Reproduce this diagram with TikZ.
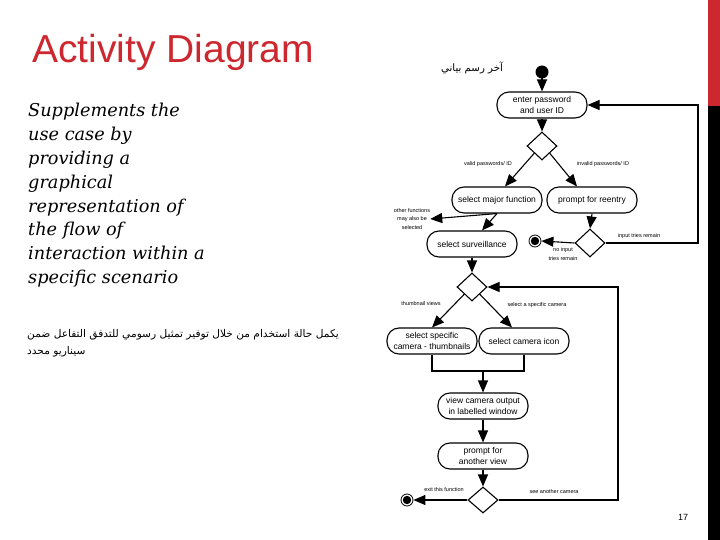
\documentclass[tikz,border=0pt]{standalone}
\usepackage{fontspec}
\setmainfont{Liberation Sans}
\newfontfamily\arabicfont[Script=Arabic]{DejaVu Sans}
\newfontfamily\bodyserif{DejaVu Serif}
\TeXXeTstate=1
\usetikzlibrary{shapes.geometric,arrows.meta,calc}
\definecolor{slidered}{RGB}{205,39,48}
\tikzset{
  act/.style={draw, line width=1.1pt, rounded corners=12pt, minimum width=90pt,
    minimum height=26pt, align=center, inner sep=1pt, font=\fontsize{8.5}{11}\selectfont},
  dec/.style={draw, line width=1.1pt, diamond, minimum width=30pt, minimum height=28pt, inner sep=0pt},
  lbl/.style={font=\fontsize{5.5}{8.5}\selectfont, inner sep=0pt, align=center},
  flow/.style={line width=1.1pt, -{Triangle[length=12pt,width=10pt]}},
  plainline/.style={line width=1.1pt},
  finalnode/.style={circle, draw, line width=0.8pt, minimum size=12pt, inner sep=0pt,
    path picture={\fill (path picture bounding box.center) circle (4.2pt);}},
  bodyline/.style={anchor=base west, inner sep=0pt, font=\bodyserif\itshape\fontsize{17.7}{20}\selectfont},
}
\begin{document}
\begin{tikzpicture}[x=1pt,y=-1pt]
\useasboundingbox (0,0) rectangle (720,540);
\fill[white] (0,0) rectangle (720,540);
% side bar
\fill[slidered] (708,0) rectangle (720,106);
\fill[black] (708,106) rectangle (720,540);
% title
\node[anchor=base west, inner sep=0pt, text=slidered, font=\fontsize{39}{41}\selectfont] (title) at (32,63) {Activity Diagram};
% left text
\foreach \t [count=\i] in {Supplements the, use case by, providing a, graphical, representation of, the flow of, interaction within a, specific scenario}
  \node[bodyline] (t\i) at (28,{117+23.8*(\i-1)}) {\t};
% arabic texts
\node[inner sep=0pt, font=\arabicfont\fontsize{10.2}{12}\selectfont] (artitle) at (472,68) {\beginR آخر رسم بياني\endR};
\node[anchor=base west, inner sep=0pt, font=\arabicfont\fontsize{10.6}{12}\selectfont] (ar1) at (27,337) {\beginR يكمل حالة استخدام من خلال توفير تمثيل رسومي للتدفق التفاعل ضمن\endR};
\node[anchor=base west, inner sep=0pt, font=\arabicfont\fontsize{10.6}{12}\selectfont] (ar2) at (27,354) {\beginR سيناريو محدد\endR};
% page number
\node[inner sep=0pt, font=\fontsize{9}{10}\selectfont] (pg) at (683,517) {17};

% diagram nodes
\fill (542,72) circle (6.5pt);
\coordinate (start) at (542,72);
\node[act] (pw) at (542,105) {enter password\\and user ID};
\node[dec] (d1) at (542,146) {};
\node[act] (major) at (497,200) {select major function};
\node[act] (reentry) at (592,200) {prompt for reentry};
\node[act] (surv) at (472,244) {select surveillance};
\node[dec] (d2) at (590,243) {};
\node[finalnode] (fin1) at (535,241) {};
\node[dec] (d3) at (472,287) {};
\node[act] (thumb) at (432,341) {select specific\\camera - thumbnails};
\node[act] (icon) at (524,341) {select camera icon};
\node[act] (view) at (483,406) {view camera output\\in labelled window};
\node[act] (another) at (483,456) {prompt for\\another view};
\node[dec, minimum height=26pt] (d4) at (483,500) {};
\node[finalnode] (fin2) at (407,500) {};

% labels
\node[lbl] (lvalid) at (488,164) {valid passwords/ ID};
\node[lbl] (linvalid) at (603,164) {invalid passwords/ ID};
\node[lbl] (lother) at (412,219) {other functions\\may also be\\selected};
\node[lbl] (lnoinput) at (563,254) {no input\\tries remain};
\node[lbl] (linput) at (639,236) {input tries remain};
\node[lbl] (lthumb) at (421,304) {thumbnail views};
\node[lbl] (lspecific) at (537,305) {select a specific camera};
\node[lbl] (lexit) at (444,490) {exit this function};
\node[lbl] (lsee) at (554,492) {see another camera};

% helper coordinates
\coordinate (c1) at (698,105);
\coordinate (c3) at (618,287);
\coordinate (m) at (483,371);

% connectors
\draw[flow] (start) -- (pw.north);
\draw[flow] (pw.south) -- (d1.north);
\draw[flow] (d1.south west) -- ($(major.north)+(8,0)$);
\draw[flow] (d1.south east) -- ($(reentry.north)+(-15,0)$);
\draw[flow] (major.south) -- (lother.east);
\draw[flow] (major.south) -- ($(surv.north)+(10,0)$);
\draw[flow] (reentry.south) -- (d2.north);
\draw[flow] (d2.west) -- (fin1.east);
\draw[flow] (d2.east) -| (c1) -- (pw.east);
\draw[flow] (surv.south) -- (d3.north);
\draw[flow] (d3.south west) -- (thumb.north);
\draw[flow] (d3.south east) -- ($(icon.north)+(-12,0)$);
\draw[plainline] (thumb.south) |- (m) -| (icon.south);
\draw[flow] (m) -- (view.north);
\draw[flow] (view.south) -- (another.north);
\draw[flow] (another.south) -- (d4.north);
\draw[flow] (d4.west) -- (fin2.east);
\draw[flow] (d4.east) -| (c3) -- (d3.east);
\end{tikzpicture}
\end{document}
